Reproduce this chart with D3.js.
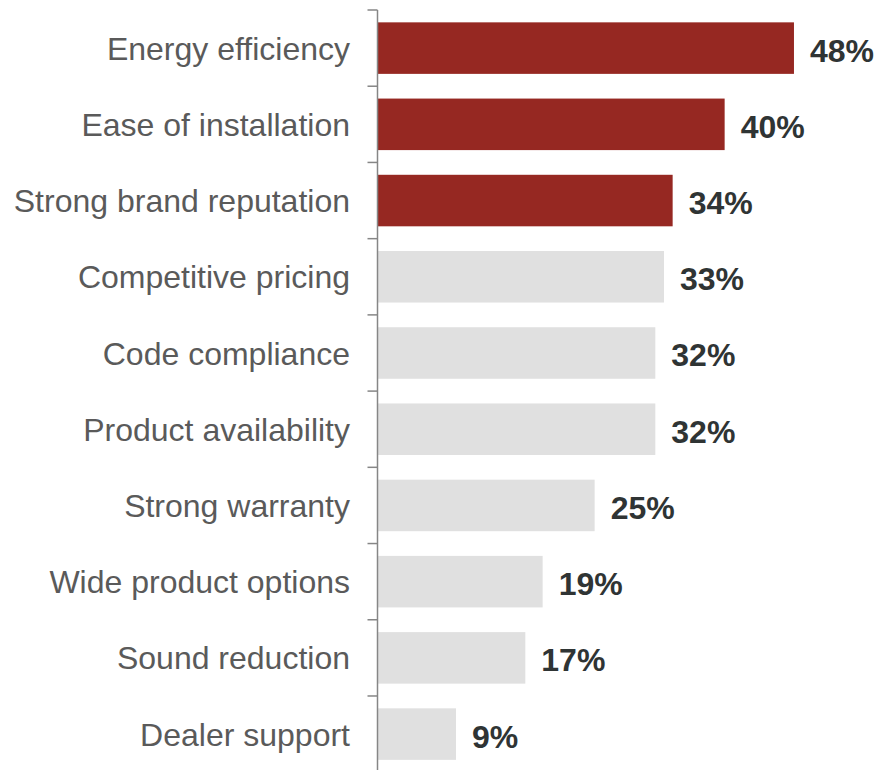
<!DOCTYPE html>
<html>
<head>
<meta charset="utf-8">
<script src="https://cdn.jsdelivr.net/npm/d3@7"></script>
<style>
  html, body { margin: 0; padding: 0; background: #fff; }
  svg { display: block; }
</style>
</head>
<body>
<svg id="chart" width="879" height="770"></svg>
<script>
// Purchase drivers, ranked
const categories = [
  "Energy efficiency",
  "Ease of installation",
  "Strong brand reputation",
  "Competitive pricing",
  "Code compliance",
  "Product availability",
  "Strong warranty",
  "Wide product options",
  "Sound reduction",
  "Dealer support"
];
const values = [48, 40, 34, 33, 32, 32, 25, 19, 17, 9];
// top three drivers are highlighted
const highlighted = [true, true, true, false, false, false, false, false, false, false];

const data = categories.map((c, i) => ({ name: c, value: values[i], hi: highlighted[i] }));

const svg = d3.select("#chart");
const axisX = 377.5;

const y = d3.scaleBand()
  .domain(categories)
  .range([10, 772.2])
  .paddingInner(0.324)
  .paddingOuter(0.162);

const x = d3.scaleLinear()
  .domain([0, 50])
  .range([378, 811.3]);

// bars
svg.append("g")
  .selectAll("rect")
  .data(data)
  .join("rect")
  .attr("x", x(0))
  .attr("y", d => y(d.name))
  .attr("width", d => x(d.value) - x(0))
  .attr("height", y.bandwidth())
  .attr("fill", d => d.hi ? "#962822" : "#e0e0e0");

// value labels
svg.append("g")
  .selectAll("text")
  .data(data)
  .join("text")
  .attr("x", d => x(d.value) + 16)
  .attr("y", d => y(d.name) + y.bandwidth() / 2)
  .attr("dy", "0.42em")
  .attr("font-family", "'Liberation Sans', Arial, sans-serif")
  .attr("font-weight", "bold")
  .attr("font-size", 32)
  .attr("fill", "#2f3434")
  .text(d => d.value + "%");

// category axis: vertical rule with ticks between bands
const step = y.step();
const boundaries = categories.map(c => y(c) - step * y.paddingInner() / 2);
boundaries.push(boundaries[boundaries.length - 1] + step);

const axis = svg.append("g");
axis.append("line")
  .attr("x1", axisX).attr("x2", axisX)
  .attr("y1", boundaries[0]).attr("y2", boundaries[boundaries.length - 1])
  .attr("stroke", "#868686")
  .attr("stroke-width", 1.5);

axis.selectAll("line.tick")
  .data(boundaries)
  .join("line")
  .attr("class", "tick")
  .attr("x1", axisX - 10).attr("x2", axisX)
  .attr("y1", d => d).attr("y2", d => d)
  .attr("stroke", "#868686")
  .attr("stroke-width", 1.5);

axis.selectAll("text")
  .data(data)
  .join("text")
  .attr("x", 350)
  .attr("y", d => y(d.name) + y.bandwidth() / 2)
  .attr("dy", "0.36em")
  .attr("text-anchor", "end")
  .attr("font-family", "'Liberation Sans', Arial, sans-serif")
  .attr("font-size", 32)
  .attr("fill", "#5a5a5a")
  .text(d => d.name);
</script>
</body>
</html>
